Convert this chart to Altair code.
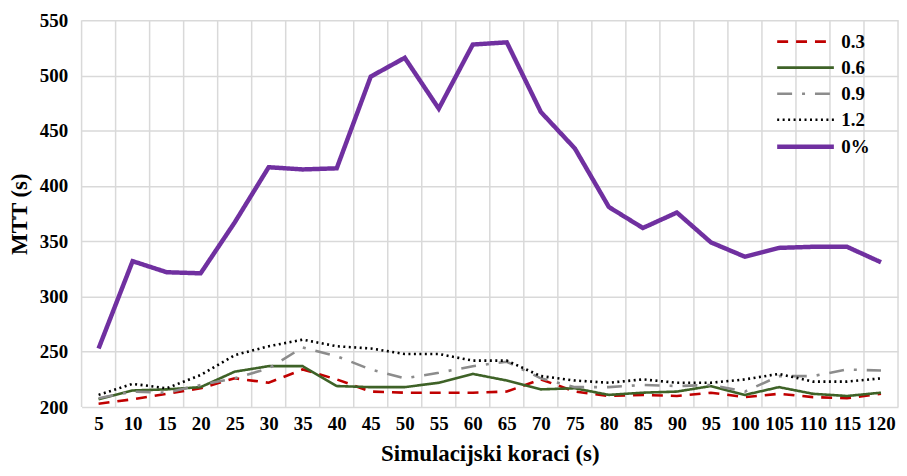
import altair as alt
import pandas as pd

steps = [5, 10, 15, 20, 25, 30, 35, 40, 45, 50, 55, 60, 65, 70, 75, 80, 85, 90, 95, 100, 105, 110, 115, 120]
series_names = ["0.3", "0.6", "0.9", "1.2", "0%"]
s03 = [203, 207, 212, 217, 226, 222, 234, 225, 214, 213, 213, 213, 214, 225, 214, 210, 211, 210, 213, 209, 212, 209, 208, 212]
s06 = [207, 215, 216, 218, 232, 237, 237, 219, 218, 218, 222, 230, 224, 216, 217, 211, 213, 214, 219, 211, 218, 212, 210, 213]
s09 = [208, 214, 213, 220, 226, 235, 254, 246, 234, 226, 231, 237, 241, 226, 218, 218, 220, 219, 220, 214, 228, 228, 234, 233]
s12 = [211, 221, 217, 229, 247, 255, 261, 255, 253, 248, 248, 242, 242, 228, 224, 222, 225, 222, 222, 225, 230, 223, 223, 226]
s0p = [253, 332, 322, 321, 367, 417, 415, 416, 499, 516, 470, 528, 530, 467, 434, 381, 362, 376, 349, 336, 344, 345, 345, 331]

colors = ["#C00000", "#3E6227", "#8C8C8C", "#000000", "#7030A0"]
dashes = [[11, 8], [1, 0], [15, 10, 3, 10], [2, 3.5], [1, 0]]
widths = [2.6, 2.6, 2.6, 2.6, 4.5]

rows = []
for name, vals in zip(series_names, [s03, s06, s09, s12, s0p]):
    for s, v in zip(steps, vals):
        rows.append({"step": s, "value": v, "series": name})
df = pd.DataFrame(rows)

half = (steps[1] - steps[0]) / 2
bounds = pd.DataFrame({"b": [s - half for s in steps] + [steps[-1] + half]})

font = "Liberation Serif"
xscale = alt.Scale(domain=[steps[0] - half, steps[-1] + half], nice=False, zero=False)
xaxis = alt.Axis(values=steps, grid=False, ticks=False, domain=False,
                 labelOverlap=False, title="Simulacijski koraci (s)",
                 labelPadding=8, titlePadding=9)

leg = alt.Legend(title=None, orient="none", legendX=697, legendY=10.5, padding=0,
                 symbolType="M-1,0H5", symbolSize=361,
                 labelFont=font, labelFontSize=19, labelFontWeight="bold",
                 rowPadding=5.2, labelOffset=43)

grid = alt.Chart(bounds).mark_rule(color="#D9D9D9", strokeWidth=1.5).encode(
    x=alt.X("b:Q", scale=xscale, axis=xaxis, title="Simulacijski koraci (s)")
)

lines = alt.Chart(df).mark_line(strokeCap="butt").encode(
    x=alt.X("step:Q", scale=xscale, axis=xaxis, title="Simulacijski koraci (s)"),
    y=alt.Y("value:Q", scale=alt.Scale(domain=[200, 550], nice=False, zero=False),
            axis=alt.Axis(values=list(range(200, 551, 50)), grid=True, gridColor="#D9D9D9",
                          gridWidth=1.5, ticks=False, domain=False, title="MTT (s)",
                          labelPadding=14, titlePadding=8)),
    color=alt.Color("series:N", scale=alt.Scale(domain=series_names, range=colors), legend=leg),
    strokeDash=alt.StrokeDash("series:N", scale=alt.Scale(domain=series_names, range=dashes), legend=leg),
    strokeWidth=alt.StrokeWidth("series:N", scale=alt.Scale(type="ordinal", domain=series_names, range=widths),
                                legend=leg),
    detail="series:N",
)

chart = alt.layer(grid, lines).properties(
    width=821, height=389, padding={"left": 0, "top": 2, "right": 0, "bottom": 0}
).configure_view(stroke=None).configure_axis(
    labelFont=font, labelFontSize=19, labelFontWeight="bold", labelColor="#000",
    titleFont=font, titleFontSize=23, titleFontWeight="bold", titleColor="#000"
)

chart.save("out.html", embed_options={"renderer": "svg", "actions": False})
